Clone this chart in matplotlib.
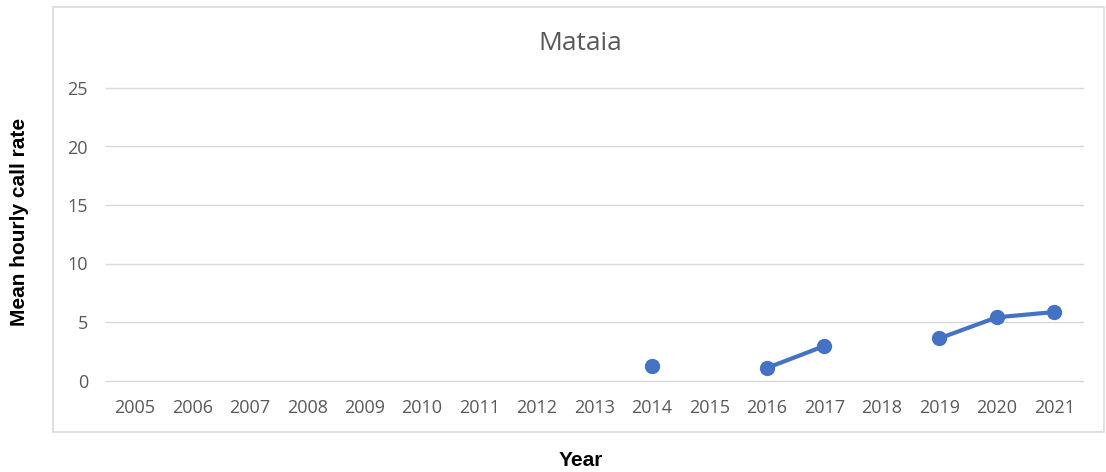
import numpy as np
import matplotlib
matplotlib.use("Agg")
import matplotlib.pyplot as plt
from matplotlib.patches import Rectangle

years = ["2005", "2006", "2007", "2008", "2009", "2010", "2011", "2012", "2013",
         "2014", "2015", "2016", "2017", "2018", "2019", "2020", "2021"]
call_rate = [np.nan, np.nan, np.nan, np.nan, np.nan, np.nan, np.nan, np.nan, np.nan,
             1.25, np.nan, 1.07, 2.95, np.nan, 3.6, 5.4, 5.85]
y_ticks = [0, 5, 10, 15, 20, 25]

plt.rcParams['font.family'] = ['Open Sans', 'DejaVu Sans']

fig = plt.figure(figsize=(11.06, 4.72), dpi=100)
fig.patch.set_facecolor("white")

# outer chart border
fig.patches.append(Rectangle((53/1106, 1 - 432/472), (1104-53)/1106, (432-7)/472,
                             transform=fig.transFigure, fill=False,
                             edgecolor="#D9D9D9", linewidth=1.2))

ax = fig.add_axes([106/1106, 1 - 380.5/472, (1083-106)/1106, (380.5-88)/472])
x = np.arange(len(years))
ax.plot(x, call_rate, color="#4472C4", linewidth=3.0, marker="o",
        markersize=10, clip_on=False, zorder=3, solid_capstyle="round")

ax.set_xlim(-0.5, len(years) - 0.5)
ax.set_ylim(0, 25)
ax.set_yticks(y_ticks)
ax.set_yticklabels([str(t) for t in y_ticks])
ax.set_xticks(x)
ax.set_xticklabels(years)
for t in y_ticks:
    ax.axhline(t, color="#D9D9D9", linewidth=1.0, zorder=1, clip_on=False)
for s in ax.spines.values():
    s.set_visible(False)
ax.tick_params(axis="both", length=0, labelsize=13, labelcolor="#595959")
ax.tick_params(axis="x", pad=13)
ax.tick_params(axis="y", pad=13)

fig.text(580/1106, 1 - 43/472, "Mataia", ha="center", va="center",
         fontsize=19, color="#595959")

fig.text(20/1106, 1 - 222/472, "Mean hourly call rate", rotation=90,
         ha="center", va="center", fontsize=15, fontweight="bold",
         family=["Liberation Sans", "DejaVu Sans"], color="black")
fig.text(581/1106, 1 - 461/472, "Year", ha="center", va="center",
         fontsize=15, fontweight="bold",
         family=["Liberation Sans", "DejaVu Sans"], color="black")

fig.savefig("out.png", dpi=100)
